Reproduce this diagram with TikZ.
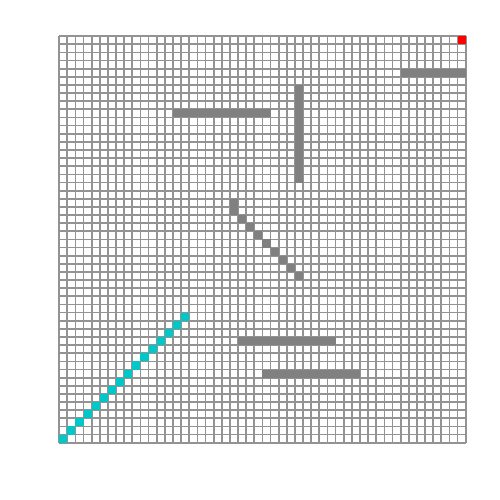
\documentclass[tikz,border=0pt]{standalone}
\usepackage{tikz}
\usepackage{xcolor}
\definecolor{gridgray}{RGB}{128,128,128}
\definecolor{wallgray}{RGB}{128,128,128}
\definecolor{pathcyan}{RGB}{0,200,200}
\definecolor{goalred}{RGB}{255,0,0}

\begin{document}
\begin{tikzpicture}[x=0.2439cm,y=0.2439cm]
  \useasboundingbox (-7.28,-7.05) rectangle (54.22,54.45);
  \draw[gridgray!85,line width=1.5pt,step=1] (0,0) grid (50,50);
  \foreach \c in {42,...,49}{\fill[wallgray] (\c,45) rectangle ++(1,1);}
  \foreach \c in {14,...,25}{\fill[wallgray] (\c,40) rectangle ++(1,1);}
  \foreach \r in {32,...,43}{\fill[wallgray] (29,\r) rectangle ++(1,1);}
  \fill[wallgray] (21,29) rectangle ++(1,1);
  \foreach \k in {0,...,8}{\fill[wallgray] (21+\k,28-\k) rectangle ++(1,1);}
  \foreach \c in {22,...,33}{\fill[wallgray] (\c,12) rectangle ++(1,1);}
  \foreach \c in {25,...,36}{\fill[wallgray] (\c,8) rectangle ++(1,1);}
  \foreach \i in {0,...,15}{\fill[pathcyan] (\i,\i) rectangle ++(1,1);}
  \fill[goalred] (49,49) rectangle ++(1,1);
\end{tikzpicture}
\end{document}
